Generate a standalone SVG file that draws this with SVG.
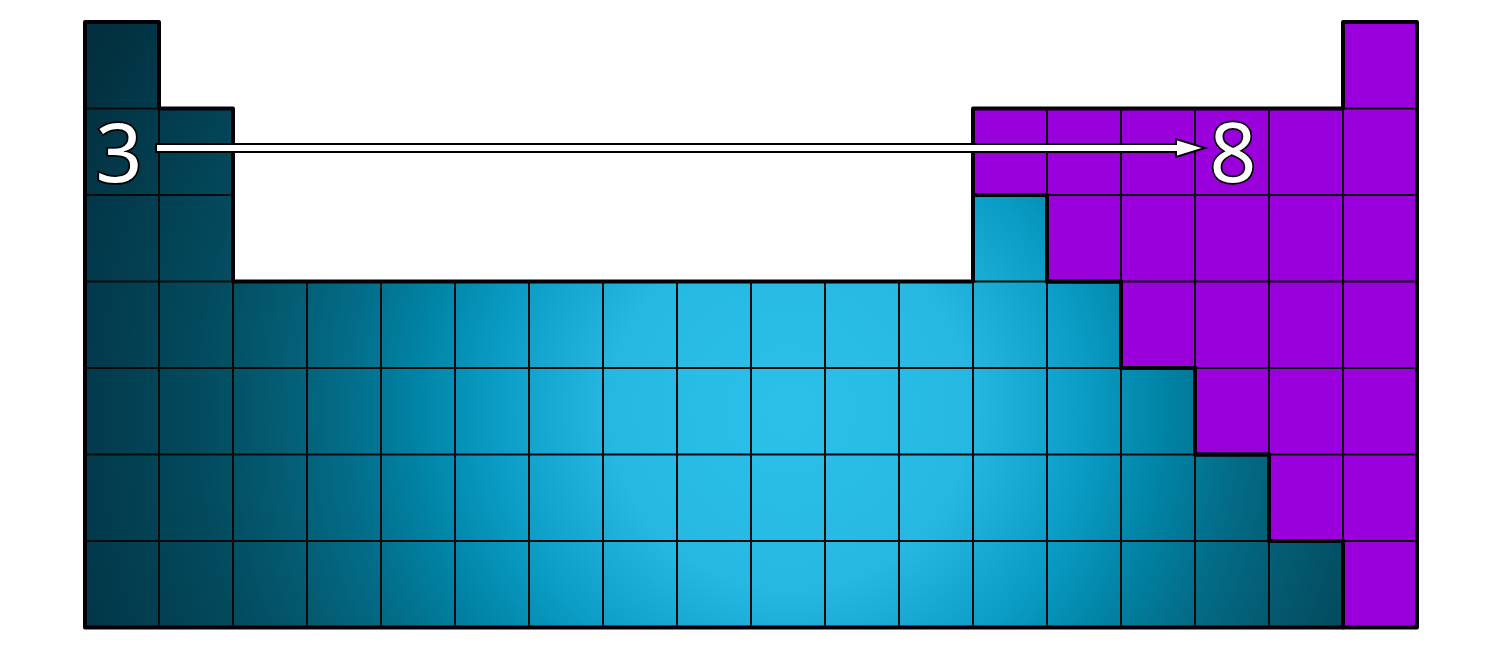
<svg xmlns="http://www.w3.org/2000/svg" width="1502" height="652" viewBox="0 0 1502 652">
<style>
.blue{fill:url(#bg)}
.purple{fill:#9900dc}
.grid{fill:none;stroke:#0a0a0a;stroke-width:2}
.outline{fill:none;stroke:#050008;stroke-width:4;stroke-linejoin:round}
.num{font-family:"Noto Sans","DejaVu Sans",sans-serif;font-size:82px;fill:#fff;stroke:#000;stroke-width:3.5;paint-order:stroke;text-anchor:middle}
.arrow{fill:#fff;stroke:#000;stroke-width:2;stroke-linejoin:miter}
</style>
<defs>
<radialGradient id="bg" gradientUnits="userSpaceOnUse" cx="790" cy="410" r="780">
<stop offset="0" stop-color="#2cc0e8"/>
<stop offset="0.23" stop-color="#26b8e0"/>
<stop offset="0.38" stop-color="#0a9cc4"/>
<stop offset="0.477" stop-color="#0184a6"/>
<stop offset="0.572" stop-color="#036c88"/>
<stop offset="0.667" stop-color="#045a70"/>
<stop offset="0.76" stop-color="#034a5e"/>
<stop offset="0.86" stop-color="#023f50"/>
<stop offset="0.923" stop-color="#02384a"/>
<stop offset="1" stop-color="#02303e"/>
</radialGradient>
<clipPath id="cells">
<path d="M85,22 H159 V108.5 H233 V281.5 H973 V195 H1047 V281.5 H1121 V368 H1195 V454.5 H1269 V541 H1343 V627.5 H85 Z"/>
<path d="M973,108.5 H1343 V22 H1417 V627.5 H1343 V541 H1269 V454.5 H1195 V368 H1121 V281.5 H1047 V195 H973 Z"/>
</clipPath>
</defs>
<g id="blue-block">
<path class="blue" d="M85,22 H159 V108.5 H233 V281.5 H973 V195 H1047 V281.5 H1121 V368 H1195 V454.5 H1269 V541 H1343 V627.5 H85 Z"/>
</g>
<g id="purple-block">
<path class="purple" d="M973,108.5 H1343 V22 H1417 V627.5 H1343 V541 H1269 V454.5 H1195 V368 H1121 V281.5 H1047 V195 H973 Z"/>
</g>
<g id="grid" clip-path="url(#cells)">
<path class="grid" d="M159,22 V628 M233,22 V628 M307,22 V628 M381,22 V628 M455,22 V628 M529,22 V628 M603,22 V628 M677,22 V628 M751,22 V628 M825,22 V628 M899,22 V628 M973,22 V628 M1047,22 V628 M1121,22 V628 M1195,22 V628 M1269,22 V628 M1343,22 V628 M85,108.5 H1417 M85,195 H1417 M85,281.5 H1417 M85,368 H1417 M85,454.5 H1417 M85,541 H1417"/>
</g>
<g id="outlines">
<path class="outline" d="M85,22 H159 V108.5 H233 V281.5 H973 V195 H1047 V281.5 H1121 V368 H1195 V454.5 H1269 V541 H1343 V627.5 H85 Z"/>
<path class="outline" d="M973,108.5 H1343 V22 H1417 V627.5 H1343 V541 H1269 V454.5 H1195 V368 H1121 V281.5 H1047 V195 H973 Z"/>
</g>
<g id="connectors">
<path class="arrow" d="M156,144 L1176,144 L1176,139 L1205,148 L1176,157 L1176,152 L156,152 Z"/>
</g>
<g id="label-3"><text class="num" x="119" y="182">3</text></g>
<g id="label-8"><text class="num" x="1233" y="182">8</text></g>
</svg>
